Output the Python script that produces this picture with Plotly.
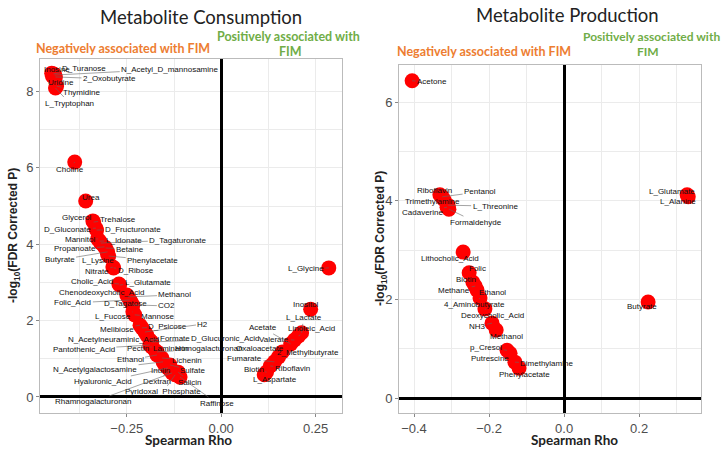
import plotly.graph_objects as go

# ---------------- Data: Metabolite Consumption ----------------
cons_names = ["Inosine", "D_Turanose", "N_Acetyl_D_mannosamine", "Uridine", "2_Oxobutyrate",
              "Thymidine", "L_Tryptophan", "Choline", "Urea", "Glycerol", "Trehalose",
              "D_Gluconate", "D_Fructuronate", "Mannitol", "L_Idonate", "D_Tagaturonate",
              "Propanoate", "Betaine", "Butyrate", "L_Lysine", "Phenylacetate", "Nitrate",
              "D_Ribose", "Cholic_Acid", "L_Glutamate", "Chenodeoxycholic_Acid", "Methanol",
              "Folic_Acid", "D_Tagatose", "CO2", "L_Fucose", "Mannose", "Melibiose",
              "D_Psicose", "H2", "N_Acetylneuraminic_Acid", "Formate", "D_Glucuronic_Acid",
              "Pantothenic_Acid", "Pectin", "Laminarin", "Homogalacturonan", "Ethanol",
              "Lichenin", "N_Acetylgalactosamine", "Inulin", "Sulfate", "Hyaluronic_Acid",
              "Dextran", "Salicin", "Pyridoxal_Phosphate", "Rhamnogalacturonan", "Raffinose",
              "L_Glycine", "Inositol", "L_Lactate", "Linoleic_Acid", "Valerate", "Acetate",
              "Oxaloacetate", "2_Methylbutyrate", "Fumarate", "Riboflavin", "Biotin",
              "L_Aspartate"]
cons_rho = [-0.449, -0.444, -0.441, -0.447, -0.439, -0.436, -0.439, -0.388, -0.359, -0.340,
            -0.338, -0.332, -0.330, -0.327, -0.322, -0.319, -0.309, -0.306, -0.301, -0.301,
            -0.298, -0.287, -0.285, -0.271, -0.269, -0.250, -0.247, -0.242, -0.239, -0.234,
            -0.234, -0.229, -0.215, -0.210, -0.202, -0.197, -0.189, -0.184, -0.189, -0.184,
            -0.176, -0.170, -0.170, -0.157, -0.154, -0.149, -0.136, -0.141, -0.136, -0.114,
            -0.122, -0.130, -0.109,
            0.285, 0.237, 0.213, 0.205, 0.194, 0.184, 0.162, 0.152, 0.141, 0.130, 0.120, 0.114]
cons_logp = [8.48, 8.46, 8.43, 8.40, 8.38, 8.14, 8.09, 6.15, 5.13, 4.61, 4.58, 4.42, 4.37,
             4.14, 4.08, 4.03, 3.93, 3.90, 3.80, 3.74, 3.69, 3.40, 3.38, 2.96, 2.93, 2.67,
             2.62, 2.54, 2.49, 2.41, 2.23, 2.15, 1.88, 1.81, 1.70, 1.62, 1.49, 1.44, 1.36,
             1.31, 1.23, 1.18, 1.10, 1.02, 0.92, 0.84, 0.84, 0.76, 0.71, 0.65, 0.58, 0.63,
             0.52,
             3.38, 2.30, 1.68, 1.60, 1.49, 1.39, 1.18, 1.05, 0.92, 0.81, 0.65, 0.58]

# ---------------- Data: Metabolite Production ----------------
prod_names = ["Acetone", "Riboflavin", "Pentanol", "Trimethylamine", "L_Threonine",
              "Cadaverine", "Formaldehyde", "Lithocholic_Acid", "Folic", "Biotin", "Methane",
              "Ethanol", "4_Aminobutyrate", "Deoxycholic_Acid", "NH3", "Methanol", "p_Cresol",
              "Putrescine", "Dimethylamine", "Phenylacetate", "L_Glutamate", "L_Alanine",
              "Butyrate"]
prod_rho = [-0.405, -0.331, -0.325, -0.320, -0.309, -0.312, -0.307, -0.269, -0.253, -0.243,
            -0.237, -0.232, -0.224, -0.211, -0.192, -0.181, -0.152, -0.144, -0.131, -0.120,
            0.328, 0.331, 0.224]
prod_logp = [6.43, 4.12, 4.08, 4.02, 3.91, 3.87, 3.83, 2.96, 2.54, 2.35, 2.27, 2.19, 2.03,
             1.81, 1.52, 1.38, 0.97, 0.91, 0.73, 0.61, 4.12, 4.08, 1.95]

# label offsets (pixels, label centre relative to point) – layout only
cons_off = [(5, -4), (30, -5), (115, -6), (9, 6), (54, 2), (25, 6), (14, 15), (-5, 7),
            (5, -4), (-16, -3), (24, -3), (-28, 1), (36, -1), (-18, 1), (24, -1), (77, -3),
            (-30, 2), (24, 1), (-48, 8), (-10, 6), (44, 4), (-16, 4), (22, 3), (-27, -2),
            (28, -3), (-25, -3), (47, -2), (-57, 3), (-5, 2), (34, 1), (-20, 5), (23, 2),
            (-23, 4), (26, -1), (58, -8), (-33, 4), (25, -2), (73, -3), (-66, 4), (-14, 2),
            (16, -1), (52, -3), (-27, 5), (25, 2), (-68, 8), (-4, 6), (23, 6), (-65, 14),
            (-13, 12), (12, 10), (-12, 17), (-79, 29), (37, 26),
            (-23, 1), (-5, -5), (2, -15), (13, -7), (-20, -1), (-28, -16), (-22, -3),
            (29, -4), (-30, -3), (22, 2), (-13, -3), (11, 5)]
prod_off = [(20, 1), (-5, -4), (38, -5), (-12, 2), (47, 1), (-25, 5), (27, 13), (-13, 6),
            (8, -4), (-7, -3), (-21, 4), (15, 2), (-6, 7), (8, 7), (-15, 3), (10, 6),
            (-21, -3), (-20, 5), (32, 1), (5, 6), (-15, -3), (-10, 5), (-6, 5)]

W, H = 723, 450
fig = go.Figure()
fig.add_trace(go.Scatter(x=cons_rho, y=cons_logp, mode="markers", xaxis="x", yaxis="y",
                         marker=dict(color="#FF0000", size=15, line=dict(width=0)),
                         hoverinfo="text", text=cons_names, showlegend=False))
fig.add_trace(go.Scatter(x=prod_rho, y=prod_logp, mode="markers", xaxis="x2", yaxis="y2",
                         marker=dict(color="#FF0000", size=15, line=dict(width=0)),
                         hoverinfo="text", text=prod_names, showlegend=False))

annotations = []
def add_labels(names, xs, ys, offs, xr, yr, fsize):
    for n, xv, yv, (dx, dy) in zip(names, xs, ys, offs):
        annotations.append(dict(x=xv, y=yv, xref=xr, yref=yr, text=n, showarrow=True,
                                ax=dx, ay=dy, arrowhead=0, arrowwidth=0.6,
                                arrowcolor="#666666", standoff=0,
                                font=dict(family="Liberation Sans, Arial", size=fsize, color="#111111")))

add_labels(cons_names, cons_rho, cons_logp, cons_off, "x", "y", 8)
add_labels(prod_names, prod_rho, prod_logp, prod_off, "x2", "y2", 8)

def paper(px, py):
    return px / W, 1 - py / H

def txt(px, py, s, size, color, family="Lato", bold=False, angle=0):
    x, y = paper(px, py)
    annotations.append(dict(x=x, y=y, xref="paper", yref="paper", text=(f"<b>{s}</b>" if bold else s),
                            showarrow=False, xanchor="center", yanchor="middle", textangle=angle,
                            font=dict(family=family, size=size, color=color)))

txt(201, 17, "Metabolite Consumption", 18.5, "#222222")
txt(567, 15, "Metabolite Production", 18.5, "#222222")
ORANGE = "#ED7D31"
GREEN = "#70AD47"
txt(123, 48, "Negatively associated with FIM", 12.5, ORANGE, bold=True)
txt(288, 37, "Positively associated with", 12.5, GREEN, bold=True)
txt(290, 52, "FIM", 12.5, GREEN, bold=True)
txt(484, 52, "Negatively associated with FIM", 12.5, ORANGE, bold=True)
txt(651, 37, "Positively associated with", 12, GREEN, bold=True)
txt(648, 52, "FIM", 12, GREEN, bold=True)

# axis titles
txt(188, 440, "Spearman Rho", 13.5, "#222222", bold=True)
txt(574, 440, "Spearman Rho", 13.5, "#222222", bold=True)
txt(14, 236, "-log<sub>10</sub>(FDR Corrected P)", 12, "#222222",
    family="Liberation Sans, Arial", bold=True, angle=-90)
txt(381, 239, "-log<sub>10</sub>(FDR Corrected P)", 12, "#222222",
    family="Liberation Sans, Arial", bold=True, angle=-90)

grid = "#EBEBEB"
tickfont = dict(family="Liberation Sans, Arial", size=13, color="#4D4D4D")
def xaxis(dom, rng, dt, mdt, anchor, fmt):
    return dict(domain=dom, range=rng, dtick=dt, tick0=0, tickformat=fmt,
                showgrid=True, gridcolor=grid, gridwidth=1,
                minor=dict(dtick=mdt, tick0=0, showgrid=True, gridcolor=grid, gridwidth=1, ticks=""),
                zeroline=True, zerolinecolor="black", zerolinewidth=2.5,
                showline=True, linecolor="#BBBBBB", linewidth=1, mirror=True,
                ticks="outside", ticklen=3, tickcolor="#888888", tickfont=tickfont,
                anchor=anchor)
def yaxis(dom, rng, anchor):
    return dict(domain=dom, range=rng, dtick=2, tick0=0,
                showgrid=True, gridcolor=grid, gridwidth=1,
                minor=dict(dtick=1, tick0=0, showgrid=True, gridcolor=grid, gridwidth=1, ticks=""),
                zeroline=True, zerolinecolor="black", zerolinewidth=2.5,
                showline=True, linecolor="#BBBBBB", linewidth=1, mirror=True,
                ticks="outside", ticklen=3, tickcolor="#888888", tickfont=tickfont,
                anchor=anchor)

fig.update_layout(
    width=W, height=H, margin=dict(l=0, r=0, t=0, b=0),
    paper_bgcolor="white", plot_bgcolor="white",
    xaxis=xaxis([40 / W, 342 / W], [-0.48, 0.32], 0.25, 0.125, "y", ".2f"),
    yaxis=yaxis([1 - 413 / H, 1 - 59 / H], [-0.42, 8.85], "x"),
    xaxis2=xaxis([399 / W, 701 / W], [-0.44, 0.365], 0.2, 0.1, "y2", ".1f"),
    yaxis2=yaxis([1 - 413 / H, 1 - 65 / H], [-0.30, 6.75], "x2"),
    annotations=annotations,
)
fig.write_html("out.html", config={"displayModeBar": False},
               post_script="document.body.style.margin='0';document.body.style.overflow='hidden';")
